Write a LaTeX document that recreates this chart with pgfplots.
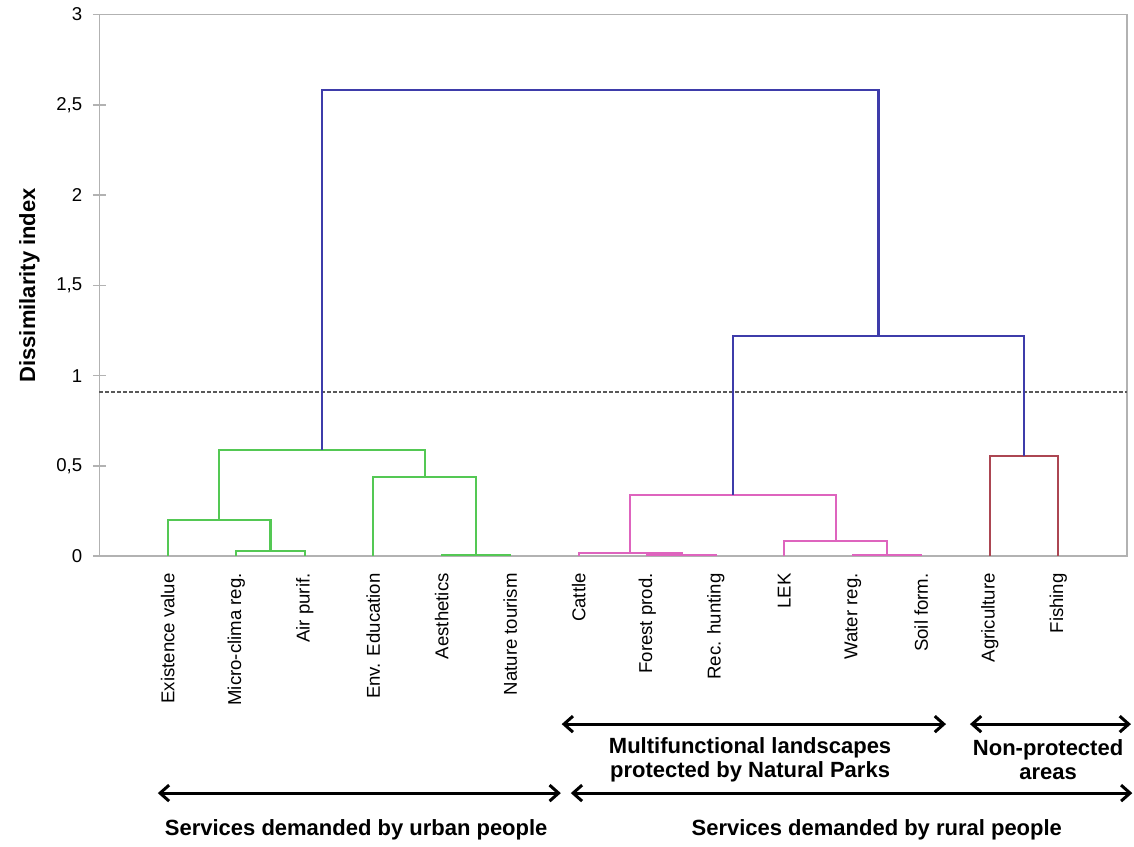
\documentclass[border=0pt]{standalone}
\usepackage{fontspec}
\setmainfont{Liberation Sans}
\usepackage{pgfplots}
\pgfplotsset{compat=1.18}
\usetikzlibrary{arrows.meta}

\definecolor{dgreen}{RGB}{84,200,84}
\definecolor{dmag}{RGB}{222,100,190}
\definecolor{dblue}{RGB}{62,60,170}
\definecolor{dbrown}{RGB}{172,70,82}
\definecolor{axgray}{RGB}{178,178,178}

\begin{document}
\begin{tikzpicture}
\begin{axis}[
    width=514pt, height=271pt, scale only axis,
    xmin=0, xmax=15, ymin=0, ymax=3,
    clip=false,
    xtick={1,...,14},
    xticklabels={Existence value, Micro-clima reg., Air purif., Env. Education,
      Aesthetics, Nature tourism, Cattle, Forest prod., Rec. hunting, LEK,
      Water reg., Soil form., Agriculture, Fishing},
    x tick label style={yshift=-1.8pt, rotate=90, anchor=east,
      font=\fontsize{9.3}{11}\selectfont},
    major x tick style={draw=none},
    ytick={0,0.5,1,1.5,2,2.5,3},
    y tick label style={xshift=-1.8pt, font=\fontsize{9.3}{11}\selectfont},
    /pgf/number format/use comma,
    /pgf/number format/assume math mode=true,
    tick pos=left, tick align=center, major tick length=6.5pt,
    axis line style={draw=axgray, line width=0.8pt},
    every tick/.style={axgray, line width=0.8pt},
    ylabel={Dissimilarity index},
    ylabel style={at={(axis description cs:-0.0680,0.5)}, anchor=center,
      font=\fontsize{11}{13}\selectfont\bfseries},
  ]
  % cut-off level
  \addplot[dash pattern=on 2pt off 1pt, color=black!65, line width=1pt] coordinates {(0,0.91) (15,0.91)};

  % urban cluster
  \addplot[dgreen, line width=1.1pt] coordinates {(2,0) (2,0.03) (3,0.03) (3,0)};
  \addplot[dgreen, line width=1.1pt] coordinates {(1,0) (1,0.2) (2.5,0.2) (2.5,0.03)};
  \addplot[dgreen, line width=1.1pt] coordinates {(5,0) (5,0.008) (6,0.008) (6,0)};
  \addplot[dgreen, line width=1.1pt] coordinates {(4,0) (4,0.44) (5.5,0.44) (5.5,0.008)};
  \addplot[dgreen, line width=1.1pt] coordinates {(1.75,0.2) (1.75,0.59) (4.75,0.59) (4.75,0.44)};

  % natural parks cluster
  \addplot[dmag, line width=1.1pt] coordinates {(8,0) (8,0.005) (9,0.005) (9,0)};
  \addplot[dmag, line width=1.1pt] coordinates {(7,0) (7,0.018) (8.5,0.018) (8.5,0.005)};
  \addplot[dmag, line width=1.1pt] coordinates {(11,0) (11,0.005) (12,0.005) (12,0)};
  \addplot[dmag, line width=1.1pt] coordinates {(10,0) (10,0.085) (11.5,0.085) (11.5,0.005)};
  \addplot[dmag, line width=1.1pt] coordinates {(7.75,0.018) (7.75,0.34) (10.75,0.34) (10.75,0.085)};

  % non-protected
  \addplot[dbrown, line width=1.1pt] coordinates {(13,0) (13,0.555) (14,0.555) (14,0)};

  % upper links
  \addplot[dblue, line width=1.1pt] coordinates {(9.25,0.34) (9.25,1.22) (13.5,1.22) (13.5,0.555)};
  \addplot[dblue, line width=1.1pt] coordinates {(3.25,0.59) (3.25,2.58) (11.375,2.58) (11.375,1.22)};

  % group annotations
  \tikzset{grp/.style={line width=1.5pt,
      {Straight Barb[length=4.5pt,width=8pt]}-{Straight Barb[length=4.5pt,width=8pt]}}}
  \draw[grp] (axis cs:6.75,-0.93) -- (axis cs:12.36,-0.93);
  \draw[grp] (axis cs:12.71,-0.93) -- (axis cs:15.06,-0.93);
  \draw[grp] (axis cs:0.854,-1.312) -- (axis cs:6.737,-1.312);
  \draw[grp] (axis cs:6.883,-1.312) -- (axis cs:15.08,-1.312);

  \node[align=center, font=\fontsize{11}{12}\selectfont\bfseries]
    at (axis cs:9.50,-1.125) {Multifunctional landscapes\\protected by Natural Parks};
  \node[align=center, font=\fontsize{11}{12}\selectfont\bfseries]
    at (axis cs:13.85,-1.125) {Non-protected\\areas};
  \node[anchor=base, font=\fontsize{11}{12}\selectfont\bfseries]
    at (axis cs:3.75,-1.544) {Services demanded by urban people};
  \node[anchor=base, font=\fontsize{11}{12}\selectfont\bfseries]
    at (axis cs:11.35,-1.544) {Services demanded by rural people};

  \path (axis cs:-1.45,3.08) (axis cs:15.10,-1.56);
\end{axis}
\end{tikzpicture}
\end{document}
